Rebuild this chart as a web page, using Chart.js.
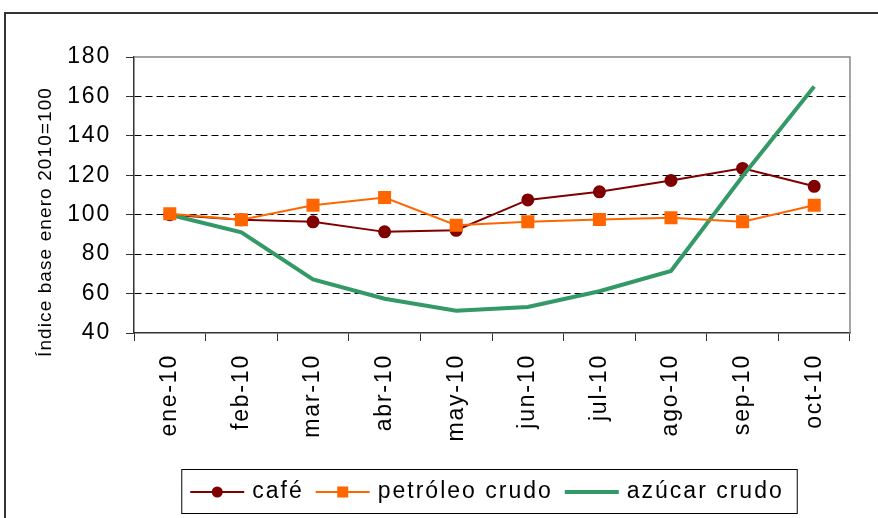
<!DOCTYPE html>
<html>
<head>
<meta charset="utf-8">
<script src="https://cdn.jsdelivr.net/npm/chart.js@4/dist/chart.umd.min.js"></script>
<style>
  body { margin: 0; background: #fff; }
</style>
</head>
<body>
<canvas id="grafico" width="878" height="518"></canvas>
<script>
const meses = ['ene-10', 'feb-10', 'mar-10', 'abr-10', 'may-10', 'jun-10', 'jul-10', 'ago-10', 'sep-10', 'oct-10'];
const cafe = [100, 97.4, 96.4, 91.3, 92.1, 107.5, 111.6, 117.4, 123.5, 114.4];
const petroleo = [100.5, 97.4, 104.8, 108.7, 94.7, 96.4, 97.6, 98.5, 96.4, 104.8];
const azucar = [100, 91.1, 67.2, 57.4, 51.3, 53.2, 61.2, 71.5, 119.5, 165];
const nombres = ['café', 'petróleo crudo', 'azúcar crudo'];
const ejeY = { min: 40, max: 180, paso: 20 };
const tituloY = 'Índice base enero 2010=100';

const fuente = '"Liberation Sans", Arial, sans-serif';

// letter spacing for the tick labels (canvas state gets reset on resize)
const espaciado = {
  id: 'espaciado',
  beforeLayout(chart) { chart.ctx.letterSpacing = '1.8px'; },
  beforeDraw(chart) { chart.ctx.letterSpacing = '1.8px'; }
};

const marco = {
  id: 'marco',
  beforeDatasetsDraw(chart) {
    const ctx = chart.ctx;
    const a = chart.chartArea;
    ctx.save();
    ctx.strokeStyle = '#888';
    ctx.lineWidth = 1.5;
    ctx.beginPath();
    ctx.moveTo(a.left, a.top);
    ctx.lineTo(a.right, a.top);
    ctx.lineTo(a.right, a.bottom);
    ctx.stroke();
    ctx.restore();
  },
  afterDraw(chart) {
    const ctx = chart.ctx;
    ctx.save();
    // outer frame
    ctx.strokeStyle = '#333';
    ctx.lineWidth = 2;
    ctx.beginPath();
    ctx.moveTo(5, 518);
    ctx.lineTo(5, 13);
    ctx.lineTo(878, 13);
    ctx.stroke();
    // y title
    ctx.translate(46, 222);
    ctx.rotate(-Math.PI / 2);
    ctx.font = '19px ' + fuente;
    ctx.letterSpacing = '1.1px';
    ctx.fillStyle = '#000';
    ctx.textAlign = 'center';
    ctx.textBaseline = 'middle';
    ctx.fillText(tituloY, 0, 0);
    ctx.restore();
  }
};

const leyenda = {
  id: 'leyenda',
  afterDraw(chart) {
    const ctx = chart.ctx;
    ctx.save();
    ctx.font = '23px ' + fuente;
    ctx.letterSpacing = '2px';
    const icono = 54, hueco = 8, entre = 12;
    const anchos = nombres.map(n => ctx.measureText(n).width);
    let total = 9 + 13;
    anchos.forEach((w, i) => { total += icono + hueco + w + (i < anchos.length - 1 ? entre : 0); });
    const x0 = 489 - total / 2, y0 = 469, alto = 44;
    ctx.strokeStyle = '#000';
    ctx.lineWidth = 1;
    ctx.strokeRect(x0 + 0.5, y0 + 0.5, total, alto);
    let x = x0 + 9;
    const yc = y0 + alto / 2 + 1;
    chart.data.datasets.forEach((ds, i) => {
      ctx.strokeStyle = ds.borderColor;
      ctx.lineWidth = ds.borderWidth;
      ctx.beginPath();
      ctx.moveTo(x, yc);
      ctx.lineTo(x + icono, yc);
      ctx.stroke();
      const cx = x + icono / 2;
      ctx.fillStyle = ds.borderColor;
      if (ds.pointStyle === 'circle' && ds.pointRadius > 0) {
        ctx.beginPath();
        ctx.arc(cx, yc, ds.pointRadius, 0, Math.PI * 2);
        ctx.fill();
      } else if (ds.pointStyle === 'rect' && ds.pointRadius > 0) {
        const s = ds.pointRadius * Math.SQRT1_2;
        ctx.fillRect(cx - s, yc - s, 2 * s, 2 * s);
      }
      x += icono + hueco;
      ctx.fillStyle = '#000';
      ctx.textBaseline = 'middle';
      ctx.fillText(nombres[i], x, yc);
      x += anchos[i] + entre;
    });
    ctx.restore();
  }
};

new Chart(document.getElementById('grafico'), {
  type: 'line',
  data: {
    labels: meses,
    datasets: [
      {
        label: nombres[0], data: cafe, order: 3,
        borderColor: '#800000', backgroundColor: '#800000', borderWidth: 2,
        pointStyle: 'circle', pointRadius: 5.5, pointBackgroundColor: '#800000', pointBorderColor: '#800000',
        tension: 0
      },
      {
        label: nombres[1], data: petroleo, order: 1,
        borderColor: '#FF6600', backgroundColor: '#FF6600', borderWidth: 2,
        pointStyle: 'rect', pointRadius: 7.8, pointBackgroundColor: '#FF6600', pointBorderColor: '#FF6600',
        tension: 0
      },
      {
        label: nombres[2], data: azucar, order: 2,
        borderColor: '#339966', backgroundColor: '#339966', borderWidth: 4,
        pointStyle: 'circle', pointRadius: 0, pointHoverRadius: 0,
        tension: 0
      }
    ]
  },
  options: {
    responsive: false,
    animation: false,
    layout: { padding: { left: 0, top: 57, right: 28, bottom: 65 } },
    plugins: { legend: { display: false }, tooltip: { enabled: false } },
    scales: {
      x: {
        offset: true,
        grid: { offset: true, drawOnChartArea: false, color: '#333', tickColor: '#333', tickLength: 8 },
        border: { color: '#333', width: 1.5 },
        ticks: { autoSkip: false, minRotation: 90, maxRotation: 90, padding: 13, color: '#000', font: { size: 23, family: fuente } },
        afterFit(s) { s.height = 120; }
      },
      y: {
        min: ejeY.min, max: ejeY.max,
        ticks: { stepSize: ejeY.paso, padding: 15, color: '#000', font: { size: 23, family: fuente } },
        grid: {
          color: c => (c.tick && (c.tick.value === ejeY.min || c.tick.value === ejeY.max)) ? 'rgba(0,0,0,0)' : '#000',
          tickBorderDash: [0, 0], tickColor: '#333', tickLength: 8, lineWidth: 1
        },
        border: { color: '#333', width: 1.5, dash: [7, 4] },
        afterFit(s) { s.width = 134; }
      }
    }
  },
  plugins: [espaciado, marco, leyenda]
});
</script>
</body>
</html>
